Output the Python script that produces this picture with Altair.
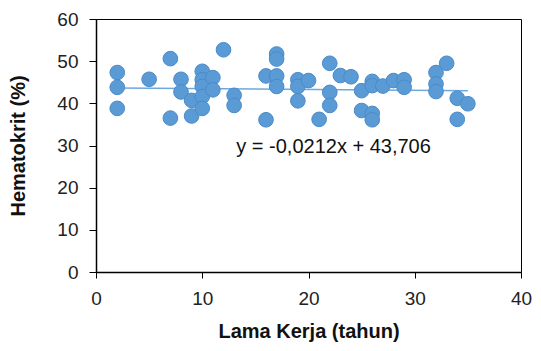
import altair as alt
import pandas as pd

lama_kerja = [2, 2, 2, 5, 7, 7, 8, 8, 9, 9, 10, 10, 10, 10, 10, 11, 11, 12, 13, 13,
              16, 16, 17, 17, 17, 17, 19, 19, 19, 20, 21, 22, 22, 22, 23, 24, 25, 25,
              26, 26, 26, 26, 27, 28, 29, 29, 32, 32, 32, 33, 34, 34, 35]
hematokrit = [47.3, 43.8, 38.8, 45.7, 50.6, 36.5, 45.7, 42.7, 40.7, 37.0, 47.6, 45.6,
              44.0, 41.6, 38.8, 46.1, 43.2, 52.7, 41.9, 39.5, 46.5, 36.1, 51.7, 50.5,
              46.5, 44.0, 45.6, 44.0, 40.6, 45.4, 36.2, 49.5, 42.6, 39.5, 46.6, 46.3,
              43.0, 38.3, 45.2, 44.2, 37.6, 36.1, 44.1, 45.4, 45.6, 43.8, 47.3, 44.6,
              42.8, 49.5, 41.2, 36.2, 39.9]
slope = -0.0212
intercept = 43.706
trend_x = [2, 35]
equation = "y = -0,0212x + 43,706"

df = pd.DataFrame({"x": lama_kerja, "y": hematokrit})
trend = pd.DataFrame({"x": trend_x, "y": [intercept + slope * v for v in trend_x]})
eq = pd.DataFrame({"x": [13.2], "y": [29.6], "t": [equation]})

FONT = "Liberation Sans"
xs = alt.Scale(domain=[0, 40], nice=False)
ys = alt.Scale(domain=[0, 60], nice=False)

xaxis = alt.Axis(values=[0, 10, 20, 30, 40], title="Lama Kerja (tahun)", grid=False,
                 labelFontSize=19, titleFontSize=20, labelFont=FONT, titleFont=FONT,
                 titleFontWeight="bold", labelColor="#222", titleColor="#111",
                 domainColor="black", domainWidth=1.5, tickColor="black", tickSize=6,
                 labelPadding=11, titlePadding=13, labelFlush=False)
yaxis = alt.Axis(values=[0, 10, 20, 30, 40, 50, 60], title="Hematokrit (%)", grid=False,
                 labelFontSize=19, titleFontSize=20, labelFont=FONT, titleFont=FONT,
                 titleFontWeight="bold", labelColor="#222", titleColor="#111",
                 domainColor="black", domainWidth=1.5, tickColor="black", tickSize=7,
                 labelPadding=11, titlePadding=28, labelFlush=False)

points = alt.Chart(df).mark_circle(size=215, opacity=1, color="#5B9BD5",
                                   stroke="#4A8AC9", strokeWidth=1).encode(
    x=alt.X("x:Q", scale=xs, axis=xaxis),
    y=alt.Y("y:Q", scale=ys, axis=yaxis),
)
line = alt.Chart(trend).mark_line(color="#6FA8DC", strokeWidth=1.5).encode(
    x=alt.X("x:Q", scale=xs), y=alt.Y("y:Q", scale=ys)
)
text = alt.Chart(eq).mark_text(align="left", baseline="middle", fontSize=20,
                               font=FONT, color="#111").encode(
    x=alt.X("x:Q", scale=xs), y=alt.Y("y:Q", scale=ys), text="t:N"
)

chart = (line + points + text).properties(
    width=425, height=253,
    autosize=alt.AutoSizeParams(type="none"),
    padding={"left": 88, "top": 11, "right": 12, "bottom": 71},
).configure_view(stroke="black", strokeWidth=1)

chart.save("out.html", embed_options={"renderer": "svg", "actions": False})
